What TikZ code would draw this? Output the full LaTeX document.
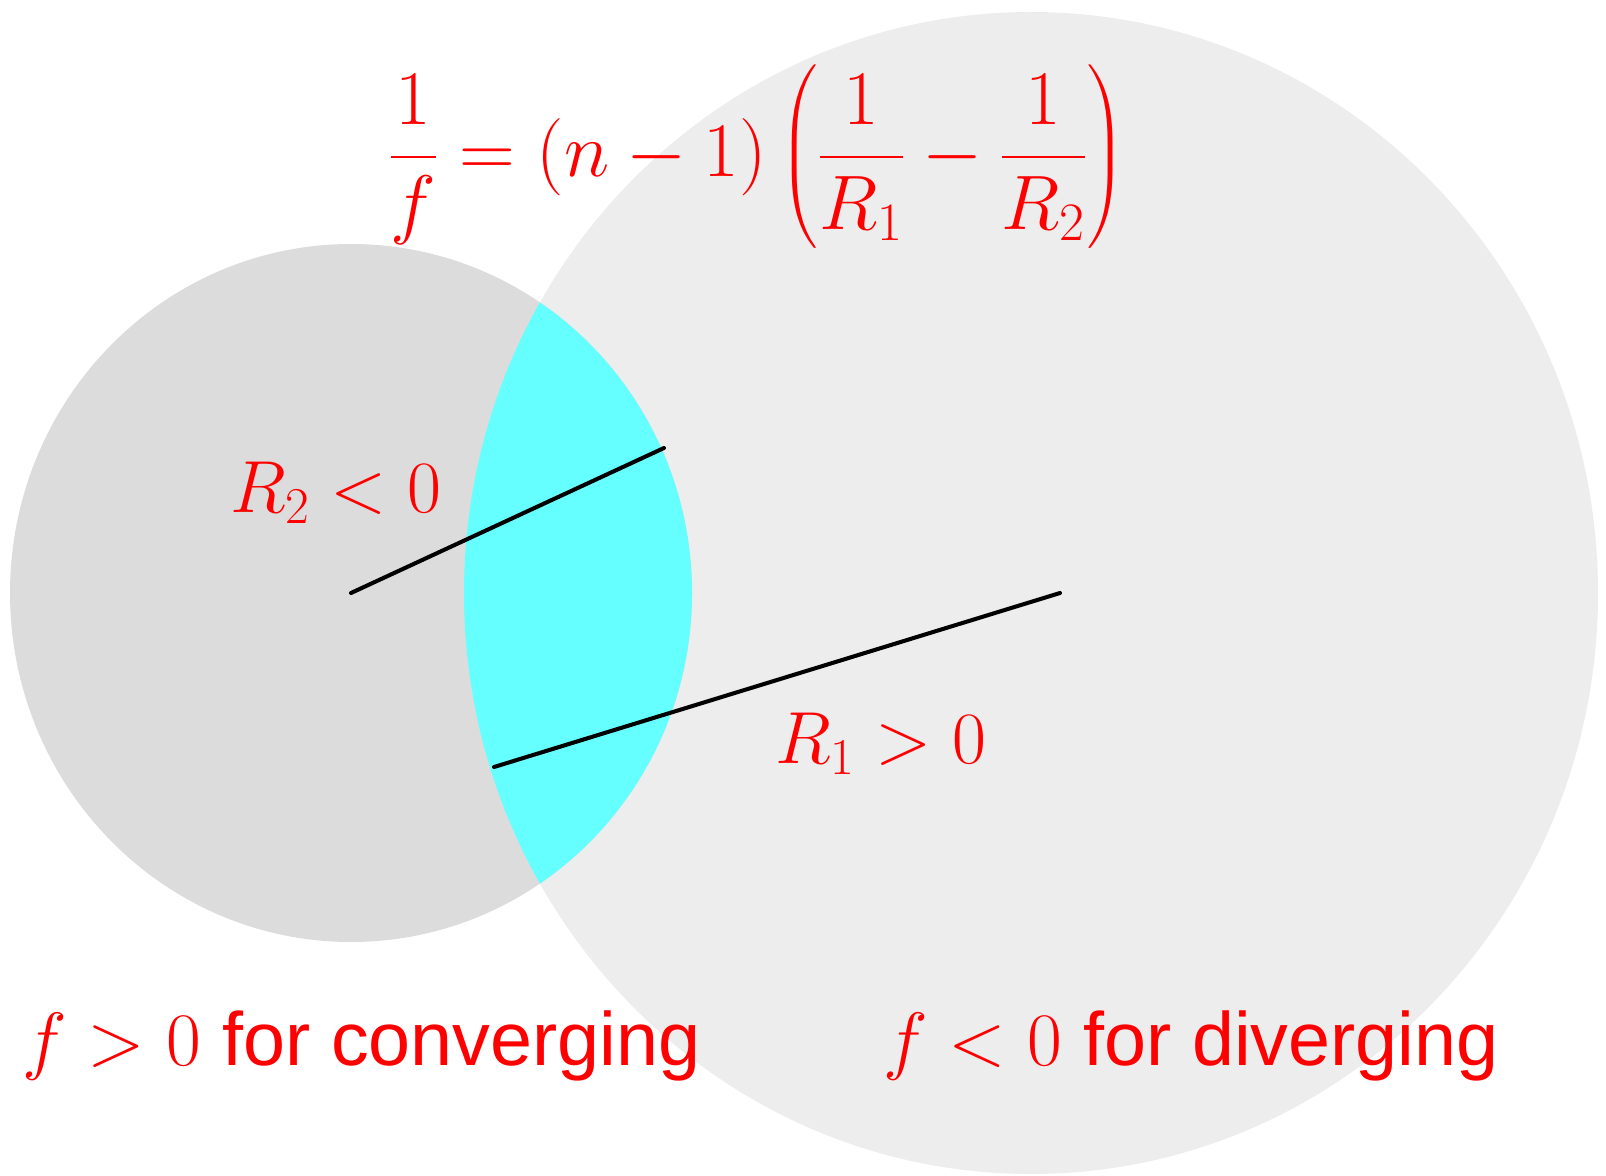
\RequirePackage{fix-cm}
\documentclass[tikz,border=0pt]{standalone}
\usepackage{exscale}
\usepackage[no-math]{fontspec}
\newfontfamily\lnsans{Liberation Sans}
\usetikzlibrary{positioning}
\definecolor{lnred}{RGB}{255,0,0}
\definecolor{lncyan}{RGB}{102,255,255}
\definecolor{lnsmallgray}{RGB}{220,220,220}
\definecolor{lnbiggray}{RGB}{237,237,237}
\tikzset{
  lnface/.style={fill=#1, draw=none},
  lnradius/.style={draw=black, line width=2.3pt, line cap=round},
  lnlbl/.style={text=lnred, inner sep=0pt, font=\fontsize{42}{50}\selectfont},
  lneq/.style={text=lnred, inner sep=0pt, font=\fontsize{44}{53}\selectfont},
  lnnote/.style={text=lnred, inner sep=0pt, font=\fontsize{43}{52}\selectfont\lnsans},
}

\begin{document}
\begin{tikzpicture}[x=0.02cm, y=-0.02cm]
    \useasboundingbox (0,0) rectangle (1606,1176);

    % Centres and radius ends
    \coordinate (bigc) at (1031,593);
    \coordinate (smallc) at (351,593);
    \coordinate (r2end) at (664,448);
    \coordinate (r1start) at (494,767);
    \coordinate (r1end) at (1060,593);

    % Surfaces
    \fill[lnface=lnbiggray] (bigc) ellipse [x radius=567, y radius=581];
    \fill[lnface=lnsmallgray] (smallc) ellipse [x radius=341, y radius=349];
    \begin{scope}
      \clip (smallc) ellipse [x radius=341, y radius=349];
      \fill[lnface=lncyan] (bigc) ellipse [x radius=567, y radius=581];
    \end{scope}

    % Radii
    \draw[lnradius] (smallc) -- (r2end);
    \draw[lnradius] (r1start) -- (r1end);

    % Formula and labels
    \node[lneq] (lensmaker) at (757,157)
      {$\displaystyle \frac{1}{f}=(n-1)\left(\frac{1}{R_1}-\frac{1}{R_2}\right)$};
    \node[lnlbl, anchor=base west] (r2lbl) at (230,512) {$R_2<0$};
    \node[lnlbl, anchor=base west] (r1lbl) at (775,763) {$R_1>0$};
    \node[lnnote, anchor=base west] (conv) at (22,1065) {$f>0$ for converging};
    \node[lnnote, anchor=base west] (div) at (883,1065) {$f<0$ for diverging};
  \end{tikzpicture}
\end{document}
